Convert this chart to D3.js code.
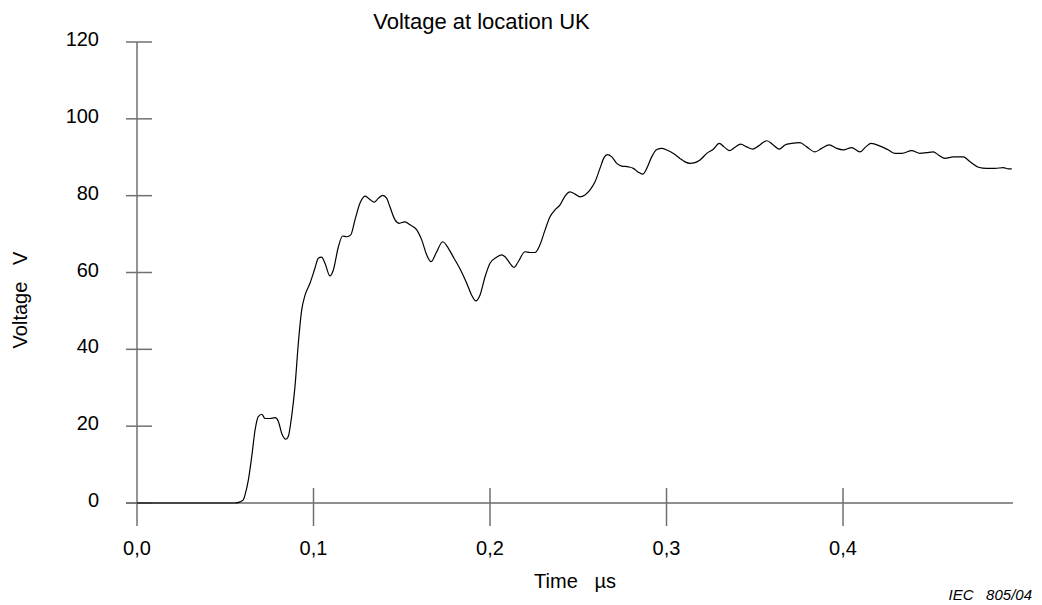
<!DOCTYPE html>
<html>
<head>
<meta charset="utf-8">
<script src="https://cdn.jsdelivr.net/npm/d3@7"></script>
<style>
  html, body { margin: 0; padding: 0; background: #fff; }
  svg { display: block; font-family: Arial, "Liberation Sans", sans-serif; }
  text { fill: #000; }
</style>
</head>
<body>
<svg id="chart" width="1042" height="605"></svg>
<script>
// ---- data ----
const chartTitle = "Voltage at location UK";
const xLabel = "Time   µs";
const yLabel = "Voltage   V";
const sourceNote = "IEC   805/04";

const xTicks = [0.0, 0.1, 0.2, 0.3, 0.4];
const xTickLabels = ["0,0", "0,1", "0,2", "0,3", "0,4"];
const yTicks = [0, 20, 40, 60, 80, 100, 120];
const yTickLabels = ["0", "20", "40", "60", "80", "100", "120"];

// time in µs
const timeUs = [
  0.0000, 0.0555, 0.0584, 0.0602, 0.0612, 0.0631, 0.0650, 0.0669, 0.0687, 0.0707,
  0.0725, 0.0754, 0.0782, 0.0801, 0.0820, 0.0844, 0.0857, 0.0876, 0.0895, 0.0914,
  0.0933, 0.0952, 0.0980, 0.1008, 0.1027, 0.1046, 0.1065, 0.1093, 0.1112, 0.1141,
  0.1165, 0.1188, 0.1211, 0.1235, 0.1263, 0.1292, 0.1320, 0.1343, 0.1367, 0.1392,
  0.1415, 0.1433, 0.1462, 0.1486, 0.1518, 0.1547, 0.1585, 0.1613, 0.1641, 0.1666,
  0.1694, 0.1732, 0.1764, 0.1796, 0.1834, 0.1868, 0.1896, 0.1919, 0.1943, 0.1972,
  0.2000, 0.2038, 0.2066, 0.2085, 0.2113, 0.2136, 0.2160, 0.2198, 0.2227, 0.2255,
  0.2283, 0.2312, 0.2340, 0.2368, 0.2397, 0.2425, 0.2453, 0.2482, 0.2510, 0.2538,
  0.2567, 0.2595, 0.2623, 0.2646, 0.2665, 0.2690, 0.2718, 0.2746, 0.2784, 0.2812,
  0.2840, 0.2865, 0.2888, 0.2916, 0.2945, 0.2973, 0.3001, 0.3039, 0.3076, 0.3105,
  0.3133, 0.3161, 0.3190, 0.3228, 0.3265, 0.3299, 0.3326, 0.3356, 0.3388, 0.3420,
  0.3454, 0.3488, 0.3520, 0.3568, 0.3605, 0.3639, 0.3671, 0.3709, 0.3756, 0.3794,
  0.3841, 0.3879, 0.3922, 0.3964, 0.4002, 0.4049, 0.4096, 0.4129, 0.4159, 0.4210,
  0.4257, 0.4295, 0.4333, 0.4389, 0.4436, 0.4474, 0.4512, 0.4540, 0.4578, 0.4625,
  0.4682, 0.4720, 0.4767, 0.4814, 0.4861, 0.4908, 0.4937, 0.4956
];
// voltage in V
const voltageV = [
  0.0, 0.0, 0.3, 0.8, 2.1, 6.0, 12.1, 19.0, 22.5, 23.1,
  22.0, 22.0, 22.2, 21.2, 18.1, 16.6, 17.3, 22.5, 30.3, 41.6,
  50.2, 54.1, 57.2, 61.1, 63.7, 64.0, 62.4, 59.1, 60.6, 66.7,
  69.5, 69.3, 69.8, 73.7, 78.0, 79.9, 79.0, 78.3, 79.3, 80.1,
  79.3, 77.1, 73.7, 72.8, 73.2, 72.4, 71.1, 68.5, 64.6, 62.8,
  65.0, 68.0, 66.3, 63.7, 60.6, 57.2, 54.1, 52.6, 54.1, 58.9,
  62.4, 64.0, 64.6, 64.1, 62.4, 61.3, 62.8, 65.4, 65.2, 65.2,
  67.2, 71.1, 74.5, 76.3, 77.6, 79.9, 81.0, 80.4, 79.7, 80.2,
  81.5, 83.6, 87.1, 89.9, 90.7, 90.1, 88.4, 87.7, 87.5, 87.1,
  86.1, 85.6, 87.1, 90.1, 92.0, 92.3, 91.9, 91.0, 89.7, 88.8,
  88.4, 88.6, 89.3, 91.0, 92.1, 93.6, 92.7, 91.7, 92.6, 93.4,
  92.7, 92.1, 92.9, 94.3, 93.2, 92.1, 93.2, 93.6, 93.8, 92.7,
  91.4, 92.3, 93.2, 92.3, 91.9, 92.5, 91.4, 92.7, 93.6, 92.9,
  91.9, 91.0, 91.0, 91.7, 91.0, 91.2, 91.4, 90.6, 89.7, 90.1,
  90.1, 88.8, 87.4, 87.1, 87.1, 87.3, 87.0, 87.0
];

// ---- layout ----
const svg = d3.select("#chart");
const x = d3.scaleLinear().domain([0, 0.4963]).range([137, 1013]);
const y = d3.scaleLinear().domain([0, 120]).range([503, 42]);

const axisColor = "#707070";

// y axis line (extends below baseline)
svg.append("line")
  .attr("x1", x(0)).attr("x2", x(0))
  .attr("y1", y(120)).attr("y2", y(0) + 23)
  .attr("stroke", axisColor).attr("stroke-width", 1.5);

// x axis line
svg.append("line")
  .attr("x1", x(0) - 11).attr("x2", x.range()[1])
  .attr("y1", y(0)).attr("y2", y(0))
  .attr("stroke", "#202020").attr("stroke-width", 1.2);

// y ticks and labels
const yg = svg.append("g");
yg.selectAll("line").data(yTicks).join("line")
  .attr("x1", x(0) - 11).attr("x2", x(0) + 15)
  .attr("y1", d => y(d)).attr("y2", d => y(d))
  .attr("stroke", axisColor).attr("stroke-width", 1.5);
yg.selectAll("text").data(yTicks).join("text")
  .attr("x", 99).attr("y", d => y(d) + 4)
  .attr("text-anchor", "end")
  .attr("font-size", 20)
  .text((d, i) => yTickLabels[i]);

// x ticks and labels
const xg = svg.append("g");
xg.selectAll("line").data(xTicks.slice(1)).join("line")
  .attr("x1", d => x(d)).attr("x2", d => x(d))
  .attr("y1", y(0) - 15).attr("y2", y(0) + 23)
  .attr("stroke", axisColor).attr("stroke-width", 1.5);
xg.selectAll("text").data(xTicks).join("text")
  .attr("x", d => x(d)).attr("y", 555)
  .attr("text-anchor", "middle")
  .attr("font-size", 20)
  .text((d, i) => xTickLabels[i]);

// curve
const series = timeUs.map((t, i) => [t, voltageV[i]]);
const line = d3.line().x(d => x(d[0])).y(d => y(d[1])).curve(d3.curveMonotoneX);
svg.append("path")
  .datum(series)
  .attr("d", line)
  .attr("fill", "none")
  .attr("stroke", "#000")
  .attr("stroke-width", 1.2);

// title
svg.append("text")
  .attr("x", 481.5).attr("y", 29)
  .attr("text-anchor", "middle")
  .attr("font-size", 22)
  .text(chartTitle);

// axis labels
svg.append("text")
  .attr("x", (x.range()[0] + x.range()[1]) / 2).attr("y", 588)
  .attr("text-anchor", "middle")
  .attr("font-size", 20)
  .style("white-space", "pre")
  .text(xLabel);

svg.append("text")
  .attr("transform", "translate(27,300) rotate(-90)")
  .attr("text-anchor", "middle")
  .attr("font-size", 20)
  .style("white-space", "pre")
  .text(yLabel);

svg.append("text")
  .attr("x", 1032).attr("y", 600)
  .attr("text-anchor", "end")
  .attr("font-size", 15)
  .attr("font-style", "italic")
  .style("white-space", "pre")
  .text(sourceNote);
</script>
</body>
</html>
